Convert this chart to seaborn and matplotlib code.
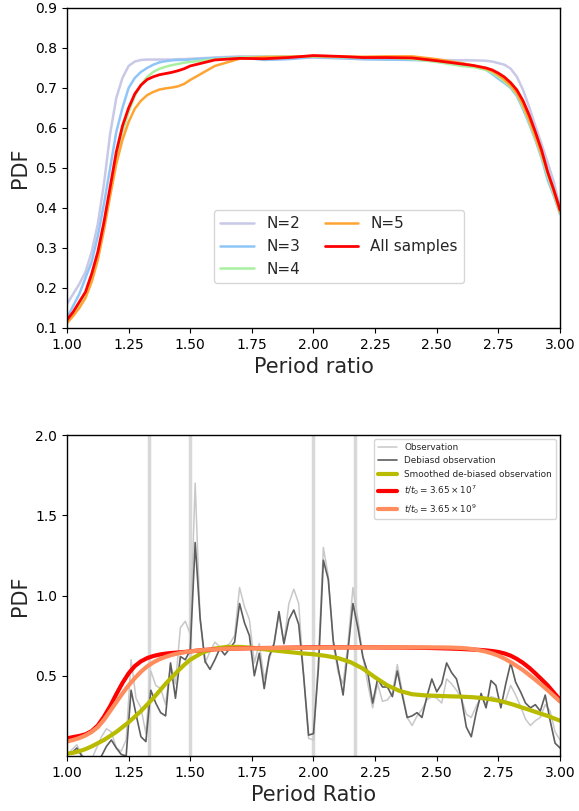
import numpy as np
import pandas as pd
import matplotlib
matplotlib.use("Agg")
import matplotlib.pyplot as plt
import seaborn as sns

# ---------------- top panel data ----------------
top_x = [1.000, 1.025, 1.050, 1.075, 1.100, 1.125, 1.150, 1.175, 1.200, 1.225,
         1.250, 1.275, 1.300, 1.325, 1.350, 1.375, 1.400, 1.425, 1.450, 1.475,
         1.500, 1.6, 1.7, 1.8, 1.9, 2.0, 2.1, 2.2, 2.3, 2.4, 2.5, 2.6, 2.65,
         2.700, 2.725, 2.750, 2.775, 2.800, 2.825, 2.850, 2.875, 2.900, 2.925,
         2.950, 2.975, 3.000]
n2 = [0.160, 0.185, 0.21, 0.24, 0.29, 0.36, 0.46, 0.585, 0.675, 0.725,
      0.755, 0.766, 0.770, 0.771, 0.771, 0.771, 0.771, 0.771, 0.772, 0.772,
      0.773, 0.776, 0.779, 0.779, 0.778, 0.776, 0.774, 0.772, 0.771, 0.770,
      0.770, 0.769, 0.769, 0.768, 0.766, 0.762, 0.758, 0.748, 0.728, 0.695,
      0.652, 0.605, 0.56, 0.513, 0.465, 0.40]
n3 = [0.125, 0.155, 0.185, 0.225, 0.265, 0.33, 0.41, 0.50, 0.59, 0.65,
      0.70, 0.725, 0.740, 0.750, 0.758, 0.764, 0.767, 0.769, 0.770, 0.770,
      0.771, 0.775, 0.777, 0.770, 0.772, 0.777, 0.775, 0.772, 0.771, 0.770,
      0.768, 0.762, 0.755, 0.745, 0.735, 0.723, 0.712, 0.70, 0.68, 0.647,
      0.61, 0.57, 0.525, 0.47, 0.43, 0.385]
n4 = [0.115, 0.135, 0.155, 0.18, 0.22, 0.275, 0.35, 0.435, 0.525, 0.59,
      0.64, 0.68, 0.708, 0.727, 0.740, 0.748, 0.753, 0.757, 0.760, 0.763,
      0.765, 0.772, 0.776, 0.778, 0.778, 0.779, 0.777, 0.776, 0.776, 0.772,
      0.765, 0.755, 0.752, 0.745, 0.738, 0.728, 0.716, 0.703, 0.684, 0.652,
      0.615, 0.574, 0.53, 0.48, 0.435, 0.388]
n5 = [0.112, 0.13, 0.15, 0.175, 0.215, 0.27, 0.345, 0.43, 0.51, 0.57,
      0.615, 0.648, 0.668, 0.682, 0.690, 0.696, 0.699, 0.701, 0.704, 0.710,
      0.720, 0.755, 0.773, 0.777, 0.778, 0.780, 0.779, 0.778, 0.779, 0.779,
      0.772, 0.762, 0.756, 0.748, 0.742, 0.732, 0.720, 0.706, 0.687, 0.657,
      0.62, 0.578, 0.535, 0.488, 0.44, 0.39]
nall = [0.12, 0.14, 0.165, 0.19, 0.235, 0.29, 0.365, 0.452, 0.54, 0.605,
        0.65, 0.685, 0.707, 0.721, 0.728, 0.733, 0.736, 0.739, 0.743, 0.748,
        0.755, 0.770, 0.774, 0.773, 0.776, 0.781, 0.779, 0.776, 0.776, 0.775,
        0.768, 0.760, 0.756, 0.750, 0.745, 0.737, 0.727, 0.713, 0.695, 0.668,
        0.632, 0.59, 0.545, 0.49, 0.445, 0.395]
top_labels = ["N=2", "N=3", "N=4", "N=5", "All samples"]

# ---------------- bottom panel data ----------------
obs_x = list(np.round(np.linspace(1.0, 3.0, 101), 2))
deb_y = [0.02, 0.02, 0.05, 0.00, -0.05, -0.08, -0.05, 0.00, 0.06, 0.10,
         0.05, 0.01, 0.00, 0.41, 0.26, 0.12, 0.09, 0.41, 0.33, 0.27,
         0.25, 0.58, 0.36, 0.62, 0.60, 0.66, 1.33, 0.86, 0.59, 0.54,
         0.60, 0.67, 0.63, 0.67, 0.71, 0.95, 0.83, 0.75, 0.50, 0.64,
         0.42, 0.62, 0.70, 0.90, 0.70, 0.85, 0.91, 0.82, 0.50, 0.13,
         0.14, 0.55, 1.22, 1.10, 0.72, 0.55, 0.38, 0.66, 0.95, 0.80,
         0.62, 0.52, 0.33, 0.48, 0.43, 0.43, 0.37, 0.53, 0.38, 0.24,
         0.25, 0.27, 0.24, 0.37, 0.48, 0.40, 0.45, 0.58, 0.52, 0.48,
         0.36, 0.18, 0.12, 0.27, 0.39, 0.30, 0.47, 0.44, 0.30, 0.45,
         0.58, 0.46, 0.40, 0.33, 0.30, 0.32, 0.28, 0.38, 0.22, 0.08,
         0.05]
obs_y = [0.00, 0.04, 0.07, 0.01, -0.03, -0.02, 0.05, 0.12, 0.17, 0.15,
         0.05, 0.03, 0.10, 0.60, 0.36, 0.30, 0.14, 0.53, 0.44, 0.42,
         0.32, 0.57, 0.45, 0.80, 0.84, 0.76, 1.70, 0.85, 0.58, 0.65,
         0.71, 0.68, 0.68, 0.70, 0.75, 1.05, 0.93, 0.85, 0.58, 0.70,
         0.48, 0.60, 0.70, 0.88, 0.70, 0.95, 1.04, 0.95, 0.50, 0.11,
         0.10, 0.60, 1.30, 1.12, 0.70, 0.52, 0.45, 0.70, 1.05, 0.85,
         0.62, 0.45, 0.30, 0.45, 0.34, 0.35, 0.39, 0.57, 0.40, 0.24,
         0.19, 0.25, 0.29, 0.35, 0.37, 0.36, 0.33, 0.48, 0.45, 0.41,
         0.36, 0.26, 0.24, 0.31, 0.37, 0.32, 0.37, 0.36, 0.33, 0.35,
         0.44, 0.38, 0.31, 0.23, 0.19, 0.22, 0.24, 0.32, 0.28, 0.15,
         0.10]
sm_x = [1.000, 1.025, 1.050, 1.075, 1.100, 1.125, 1.150, 1.175, 1.200, 1.225,
        1.250, 1.275, 1.300, 1.325, 1.350, 1.375, 1.400, 1.425, 1.450, 1.475,
        1.500, 1.55, 1.60, 1.65, 1.70, 1.75, 1.80, 1.85, 1.90, 1.95,
        2.00, 2.05, 2.10, 2.15, 2.20, 2.25, 2.30, 2.35, 2.40, 2.45,
        2.50, 2.55, 2.600, 2.625, 2.650, 2.675, 2.700, 2.725, 2.750, 2.775,
        2.800, 2.825, 2.850, 2.875, 2.900, 2.925, 2.950, 2.975, 3.000]
smooth_y = [0.015, 0.02, 0.03, 0.043, 0.06, 0.08, 0.10, 0.125, 0.15, 0.18,
            0.21, 0.245, 0.28, 0.32, 0.36, 0.405, 0.45, 0.49, 0.53, 0.567,
            0.60, 0.645, 0.670, 0.680, 0.680, 0.675, 0.665, 0.656, 0.648, 0.640,
            0.634, 0.624, 0.610, 0.585, 0.545, 0.49, 0.44, 0.405, 0.385, 0.378,
            0.375, 0.372, 0.370, 0.368, 0.366, 0.362, 0.358, 0.352, 0.345, 0.336,
            0.325, 0.313, 0.300, 0.288, 0.275, 0.262, 0.25, 0.235, 0.22]
model7_y = [0.11, 0.118, 0.125, 0.135, 0.155, 0.19, 0.245, 0.31, 0.385, 0.455,
            0.515, 0.56, 0.59, 0.61, 0.623, 0.632, 0.638, 0.642, 0.645, 0.648,
            0.652, 0.66, 0.665, 0.668, 0.670, 0.672, 0.673, 0.674, 0.675, 0.676,
            0.677, 0.677, 0.677, 0.677, 0.677, 0.677, 0.676, 0.676, 0.675, 0.674,
            0.672, 0.670, 0.667, 0.665, 0.663, 0.661, 0.658, 0.654, 0.648, 0.639,
            0.625, 0.605, 0.58, 0.55, 0.515, 0.478, 0.44, 0.395, 0.35]
model9_y = [0.09, 0.10, 0.112, 0.128, 0.15, 0.18, 0.225, 0.28, 0.335, 0.39,
            0.44, 0.485, 0.525, 0.558, 0.583, 0.603, 0.618, 0.630, 0.639, 0.646,
            0.652, 0.66, 0.665, 0.668, 0.670, 0.671, 0.672, 0.673, 0.674, 0.675,
            0.675, 0.676, 0.676, 0.677, 0.677, 0.677, 0.677, 0.677, 0.677, 0.677,
            0.677, 0.676, 0.673, 0.670, 0.665, 0.658, 0.65, 0.639, 0.625, 0.607,
            0.585, 0.56, 0.535, 0.505, 0.475, 0.443, 0.41, 0.375, 0.34]
resonances = [4 / 3, 3 / 2, 2.0, 13 / 6]

# ---------------- figure ----------------
sns.set_style("ticks")
plt.rcParams["font.family"] = ["DejaVu Sans"]
plt.rcParams["xtick.labelsize"] = 10
plt.rcParams["ytick.labelsize"] = 10

fig = plt.figure(figsize=(5.79, 8.11), dpi=100)
ax1 = fig.add_axes([0.1157, 0.5956, 0.8515, 0.3946])
ax2 = fig.add_axes([0.1157, 0.0678, 0.8515, 0.3958])

top_cols = ["#c8c8e8", "#8fc6f7", "#a9f0a0", "#ffa433", "#ff0000"]
top_lw = [1.8, 1.8, 1.8, 1.8, 2.0]
for ys, lab, c, lw in zip([n2, n3, n4, n5, nall], top_labels, top_cols, top_lw):
    df = pd.DataFrame({"x": top_x, "y": ys})
    sns.lineplot(data=df, x="x", y="y", ax=ax1, color=c, lw=lw, label=lab,
                 estimator=None, sort=False)
ax1.set_xlim(1.0, 3.0)
ax1.set_ylim(0.1, 0.9)
ax1.set_xticks([1.0, 1.25, 1.5, 1.75, 2.0, 2.25, 2.5, 2.75, 3.0])
ax1.set_xticklabels(["1.00", "1.25", "1.50", "1.75", "2.00", "2.25", "2.50", "2.75", "3.00"])
ax1.set_yticks([0.1, 0.2, 0.3, 0.4, 0.5, 0.6, 0.7, 0.8, 0.9])
ax1.set_xlabel("Period ratio", fontsize=15)
ax1.set_ylabel("PDF", fontsize=15)
ax1.legend(ncol=2, loc="center", bbox_to_anchor=(0.552, 0.255), fontsize=11,
           handlelength=2.2, columnspacing=1.6, frameon=True)

# bottom
for r in resonances:
    ax2.axvline(r, color="#d8d8d8", lw=2.5, zorder=1)
sns.lineplot(x=obs_x, y=obs_y, ax=ax2, color="#c8c8c8", lw=1.1,
             label="Observation", estimator=None, sort=False)
sns.lineplot(x=obs_x, y=deb_y, ax=ax2, color="#5e5e5e", lw=1.2,
             label="Debiasd observation", estimator=None, sort=False)
sns.lineplot(x=sm_x, y=smooth_y, ax=ax2, color="#b8bb00", lw=3,
             label="Smoothed de-biased observation", estimator=None, sort=False)
sns.lineplot(x=sm_x, y=model7_y, ax=ax2, color="#ff0000", lw=3,
             label=r"$t/t_0 = 3.65\times10^7$", estimator=None, sort=False)
sns.lineplot(x=sm_x, y=model9_y, ax=ax2, color="#ff8c5c", lw=3,
             label=r"$t/t_0 = 3.65\times10^9$", estimator=None, sort=False)
ax2.set_xlim(1.0, 3.0)
ax2.set_ylim(0.0, 2.0)
ax2.set_xticks([1.0, 1.25, 1.5, 1.75, 2.0, 2.25, 2.5, 2.75, 3.0])
ax2.set_xticklabels(["1.00", "1.25", "1.50", "1.75", "2.00", "2.25", "2.50", "2.75", "3.00"])
ax2.set_yticks([0.5, 1.0, 1.5, 2.0])
ax2.set_xlabel("Period Ratio", fontsize=15)
ax2.set_ylabel("PDF", fontsize=15)
ax2.legend(loc="upper right", fontsize=6.4, handlelength=2.2, frameon=True)

for ax in (ax1, ax2):
    for s in ax.spines.values():
        s.set_visible(True)
        s.set_color("black")
        s.set_linewidth(1.0)
    ax.tick_params(direction="out", length=3.5, width=0.8, colors="black")

fig.savefig("out.png", dpi=100)
